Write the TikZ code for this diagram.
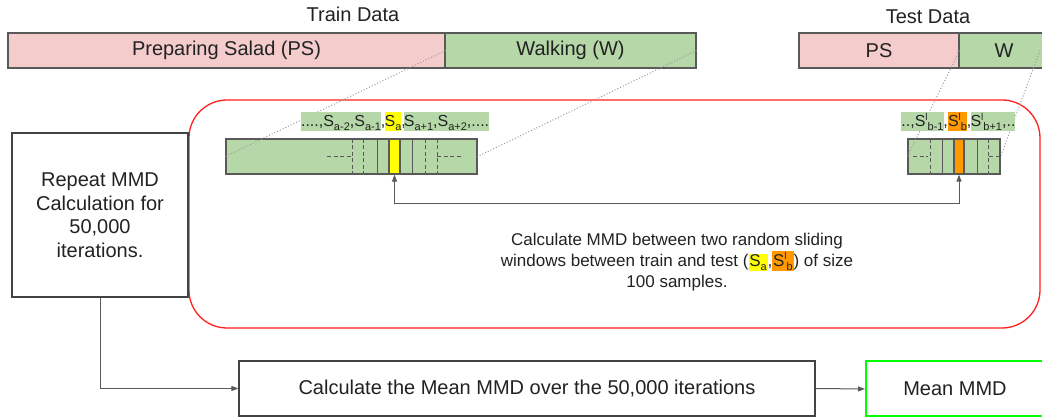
\documentclass[tikz,border=0pt]{standalone}
\usepackage{fontspec}
\setmainfont{Liberation Sans}
\usetikzlibrary{arrows.meta}

\definecolor{pinkfill}{HTML}{F4CCCC}
\definecolor{greenfill}{HTML}{B6D7A8}
\definecolor{hlyellow}{HTML}{FFFF00}
\definecolor{hlorange}{HTML}{FF9900}
\definecolor{edge}{HTML}{595959}
\definecolor{boxedge}{HTML}{434343}
\definecolor{loopred}{HTML}{FF2020}
\definecolor{meangreen}{HTML}{00FF00}
\definecolor{dotgray}{HTML}{9A9A9A}
\definecolor{ink}{HTML}{222222}

% index and prime marks for the small window labels
\newcommand\lowidx[1]{\raisebox{-4pt}{\fontsize{11}{11}\selectfont #1}}
\newcommand\hil{\raisebox{6.5pt}{\fontsize{10}{10}\selectfont l}}
% the same marks for the larger caption text
\newcommand\lowidxB[1]{\raisebox{-4pt}{\fontsize{11}{11}\selectfont #1}}
\newcommand\hilB{\raisebox{7pt}{\fontsize{10}{10}\selectfont l}}

\begin{document}
\begin{tikzpicture}[x=1pt,y=-1pt, text=ink,
  bar/.style={draw=edge, line width=1.2pt, inner sep=0pt, minimum height=35pt,
              font=\fontsize{20}{24}\selectfont},
  strip/.style={draw=edge, line width=1.2pt, fill=greenfill, inner sep=0pt, minimum height=35pt},
  cell/.style={draw=edge, line width=1.2pt, inner sep=0pt, minimum height=35pt},
  divider/.style={draw=edge, line width=1pt},
  dashdiv/.style={divider, dash pattern=on 4pt off 2.5pt},
  zoomline/.style={draw=dotgray, line width=1pt, dash pattern=on 1pt off 2pt},
  lbl/.style={inner sep=0pt, text height=15pt, text depth=4pt, minimum height=19pt,
              font=\fontsize{16}{18}\selectfont},
  sep/.style={inner sep=0pt, anchor=base, font=\fontsize{16}{18}\selectfont},
  plainbox/.style={draw=boxedge, line width=1.3pt, inner sep=0pt, align=center},
  arr/.style={draw=edge, line width=1pt, -{Triangle[length=7pt,width=5pt]}},
  dblarr/.style={draw=edge, line width=1pt, {Triangle[length=7pt,width=5pt]}-{Triangle[length=7pt,width=5pt]}},
  title/.style={font=\fontsize{20}{24}\selectfont, inner sep=0pt}
]
\fill[white] (0,0) rectangle (1042,419);
\useasboundingbox (0,0) rectangle (1042,419);

% titles
\node[title] (traintitle) at (353,14) {Train Data};
\node[title] (testtitle) at (928,16.5) {Test Data};

% activity bars
\node[bar, fill=pinkfill, minimum width=437pt] (ps) at (226.5,50.5) {Preparing Salad (PS)};
\node[bar, fill=greenfill, minimum width=251pt] (walk) at (570.5,50.5) {Walking (W)};
\node[bar, fill=pinkfill, minimum width=160pt] (tps) at (879,50.5) {PS};
\node[bar, fill=greenfill, minimum width=90pt] (tw) at (1004,50.5) {W};
\coordinate (twcut) at (1040,50.5);

% loop region
\node[draw=loopred, line width=1.3pt, rounded corners=38pt, inner sep=0pt,
      minimum width=851pt, minimum height=228pt] (loop) at (614.5,214) {};

% window strips
\node[strip, minimum width=251pt] (trw) at (351.5,156.5) {};
\node[strip, minimum width=92pt] (tew) at (954,156.5) {};

% lines from the activity bars to the strips
\draw[zoomline] (ps.east) -- (trw.west);
\draw[zoomline] (walk.east) -- (trw.east);
\draw[zoomline] (tps.east) -- (tew.west);
\draw[zoomline] (twcut) -- (tew.east);

% train strip detail
\draw[dashdiv] (352,139) -- (352,174);
\draw[dashdiv] (363,139) -- (363,174);
\draw[divider] (377,139) -- (377,174);
\node[cell, fill=hlyellow, minimum width=11pt] (sa) at (394.5,156.5) {};
\draw[divider] (412,139) -- (412,174);
\draw[dashdiv] (425,139) -- (425,174);
\draw[dashdiv] (437,139) -- (437,174);
\draw[dashdiv] (327,157) -- (352,157);
\draw[dashdiv] (437,157) -- (463,157);

% test strip detail
\draw[dashdiv] (930,139) -- (930,174);
\draw[divider] (942,139) -- (942,174);
\node[cell, fill=hlorange, minimum width=10pt] (sb) at (959,156.5) {};
\draw[divider] (977,139) -- (977,174);
\draw[dashdiv] (988,139) -- (988,174);
\draw[dashdiv] (913,157) -- (928,157);
\draw[dashdiv] (989,157) -- (999,157);

% window labels, train
\node[lbl, fill=greenfill, minimum width=80pt] (la1) at (341,121.5) {....,S\lowidx{a-2},S\lowidx{a-1}};
\node[sep] (ca1) at (383,127) {,};
\node[lbl, fill=hlyellow, minimum width=16pt] (la2) at (393,121.5) {S\lowidx{a}};
\node[sep] (ca2) at (403.5,127) {,};
\node[lbl, fill=greenfill, minimum width=81pt] (la3) at (446.5,121.5) {S\lowidx{a+1},S\lowidx{a+2},....};

% window labels, test
\node[lbl, fill=greenfill, minimum width=41pt] (lb1) at (922.5,121.5) {..,S\hil\lowidx{b-1}};
\node[sep] (cb1) at (945.5,127) {,};
\node[lbl, fill=hlorange, minimum width=19pt] (lb2) at (957.5,121.5) {S\hil\lowidx{b}};
\node[sep] (cb2) at (969,127) {,};
\node[lbl, fill=greenfill, minimum width=44pt] (lb3) at (993,121.5) {S\hil\lowidx{b+1},..};

% pairing of the two windows
\draw[dblarr] (sa.south) -- ++(0,29) -| (sb.south);

% caption inside the loop
\setlength{\fboxsep}{0.8pt}
\node[align=center, inner sep=0pt, font=\fontsize{17}{21}\selectfont] (caption) at (677,262)
  {Calculate MMD between two random sliding\\
   windows between train and test (\colorbox{hlyellow}{S\lowidxB{a}},\colorbox{hlorange}{S\hilB\lowidxB{b}}) of size\\
   100 samples.};

% process boxes
\node[plainbox, minimum width=176pt, minimum height=164pt,
      font=\fontsize{20}{23.5}\selectfont] (rep) at (100,215)
  {\raisebox{-3pt}{\parbox{150pt}{\centering Repeat MMD\\Calculation for\\50,000\\iterations.}}};
\node[plainbox, minimum width=576pt, minimum height=55pt,
      font=\fontsize{20}{24}\selectfont] (calc) at (527,388.5)
  {Calculate the Mean MMD over the 50,000 iterations};
\node[draw=meangreen, line width=2pt, inner sep=0pt, minimum width=184pt, minimum height=55pt] (meanbox) at (958,389) {};
\node[font=\fontsize{20}{24}\selectfont, inner sep=0pt] (meantext) at (955,389) {Mean MMD};

% flow
\draw[arr] (rep.south) |- (calc.west);
\draw[arr] (calc.east) -- (meanbox.west);
\end{tikzpicture}
\end{document}
